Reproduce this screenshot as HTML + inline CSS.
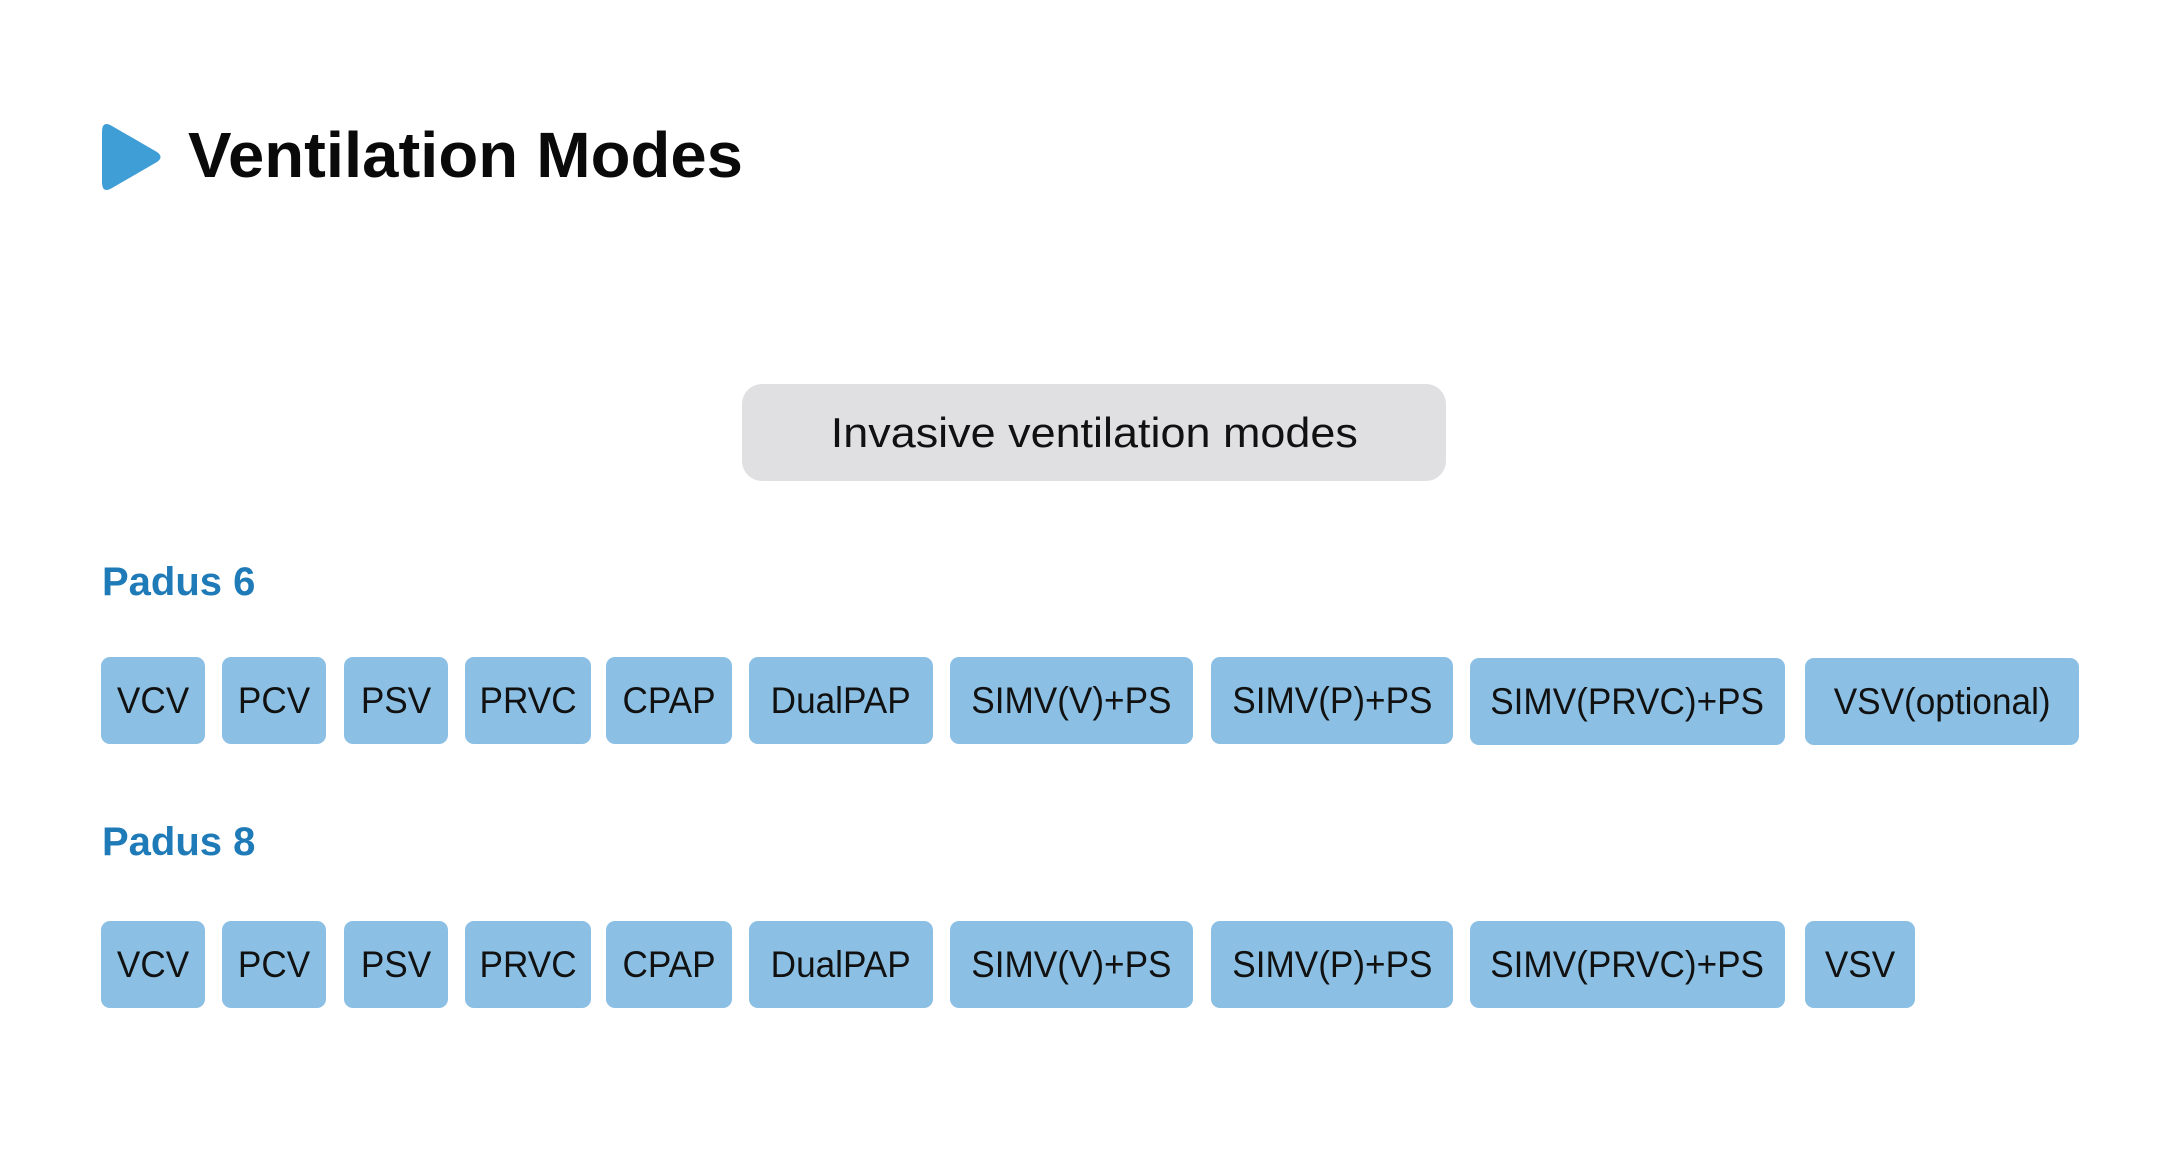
<!DOCTYPE html>
<html><head><meta charset="utf-8"><style>
html,body{margin:0;padding:0;background:#fff;}
body{width:2160px;height:1149px;position:relative;overflow:hidden;font-family:"Liberation Sans",sans-serif;}
.t{position:absolute;left:188px;top:118px;font-size:64px;font-weight:bold;color:#0a0a0a;white-space:nowrap;transform:scaleX(1.02);transform-origin:left top;}
.g{position:absolute;left:742px;top:384px;width:704px;height:97px;border-radius:20px;background:#e0e0e2;display:flex;align-items:center;justify-content:center;font-size:42px;color:#111;}
.g span{display:inline-block;transform:scaleX(1.07);}
.h{position:absolute;left:102px;font-size:40px;font-weight:bold;color:#1f7ab8;}
.b{position:absolute;height:87px;border-radius:9px;background:#8bc0e4;display:flex;align-items:center;justify-content:center;font-size:37px;color:#111;white-space:nowrap;}
.b span{display:inline-block;transform:scaleX(0.95);}
.r1{top:657px}.r2{top:921px}
</style></head><body>
<svg style="position:absolute;left:98px;top:120px" width="70" height="74" viewBox="0 0 70 74">
<path d="M4 12 Q4 0 14 6 L59 32 Q66 37 59 42 L14 68 Q4 74 4 62 Z" fill="#409ed6"/>
</svg>
<div class="t">Ventilation Modes</div>
<div class="g"><span>Invasive ventilation modes</span></div>
<div class="h" style="top:560px">Padus 6</div>
<div class="h" style="top:820px">Padus 8</div>

<div class="b r1" style="left:101px;width:104px"><span>VCV</span></div>
<div class="b r1" style="left:222px;width:104px"><span>PCV</span></div>
<div class="b r1" style="left:344px;width:104px"><span>PSV</span></div>
<div class="b r1" style="left:465px;width:126px"><span>PRVC</span></div>
<div class="b r1" style="left:606px;width:126px"><span>CPAP</span></div>
<div class="b r1" style="left:749px;width:184px"><span>DualPAP</span></div>
<div class="b r1" style="left:950px;width:243px"><span>SIMV(V)+PS</span></div>
<div class="b r1" style="left:1211px;width:242px"><span>SIMV(P)+PS</span></div>
<div class="b r1" style="left:1470px;width:315px;top:658px"><span>SIMV(PRVC)+PS</span></div>
<div class="b r1" style="left:1805px;width:274px;top:658px"><span>VSV(optional)</span></div>

<div class="b r2" style="left:101px;width:104px"><span>VCV</span></div>
<div class="b r2" style="left:222px;width:104px"><span>PCV</span></div>
<div class="b r2" style="left:344px;width:104px"><span>PSV</span></div>
<div class="b r2" style="left:465px;width:126px"><span>PRVC</span></div>
<div class="b r2" style="left:606px;width:126px"><span>CPAP</span></div>
<div class="b r2" style="left:749px;width:184px"><span>DualPAP</span></div>
<div class="b r2" style="left:950px;width:243px"><span>SIMV(V)+PS</span></div>
<div class="b r2" style="left:1211px;width:242px"><span>SIMV(P)+PS</span></div>
<div class="b r2" style="left:1470px;width:315px"><span>SIMV(PRVC)+PS</span></div>
<div class="b r2" style="left:1805px;width:110px"><span>VSV</span></div>
</body></html>
